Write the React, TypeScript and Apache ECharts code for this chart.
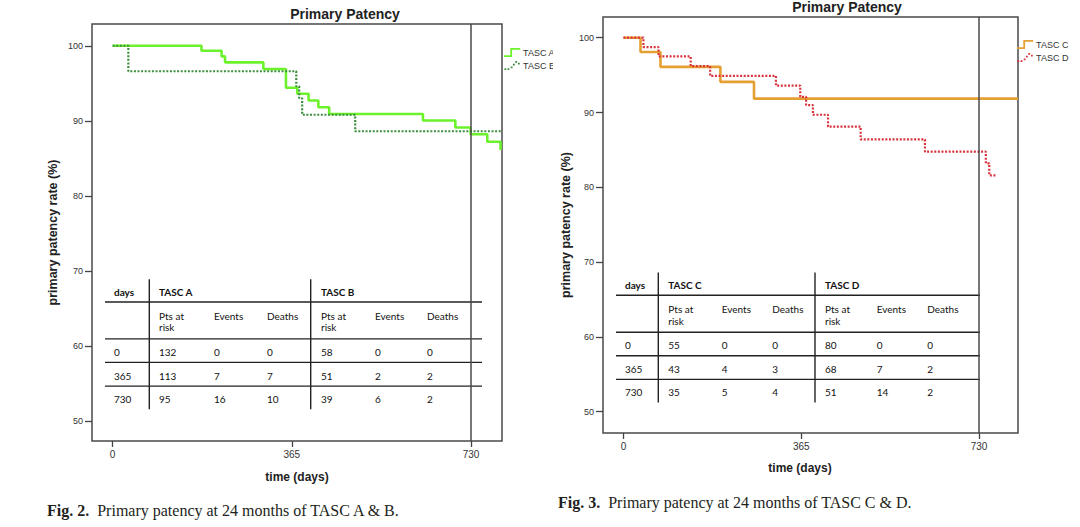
import React, { useEffect, useRef } from 'react';
import * as echarts from 'echarts';

// ---------- data ----------
const xTicks = [0, 365, 730];
const yTicks = [50, 60, 70, 80, 90, 100];

const tascADays = [0, 181, 222, 229, 307, 353, 376, 399, 419, 441, 632, 698, 729, 763, 790];
const tascAValues = [100, 99.33, 98.58, 97.78, 96.9, 94.4, 93.6, 92.7, 91.8, 90.9, 90.04, 89.1, 88.2, 87.2, 86.1];

const tascBDays = [0, 32, 374, 380, 386, 494, 793];
const tascBValues = [100, 96.6, 94.6, 93.0, 90.8, 88.6, 88.6];

const tascCDays = [0, 35, 76, 199, 268, 810];
const tascCValues = [100, 98.1, 96.1, 94.1, 91.85, 91.85];

const tascDDays = [0, 41, 72, 138, 178, 313, 363, 375, 389, 420, 487, 619, 744, 751, 767];
const tascDValues = [100, 98.75, 97.5, 96.2, 94.9, 93.6, 92.1, 91.0, 89.7, 88.1, 86.4, 84.76, 83.2, 81.6, 81.6];

const tableDays = ['0', '365', '730'];
const tascARisk = [132, 113, 95];
const tascAEvents = [0, 7, 16];
const tascADeaths = [0, 7, 10];
const tascBRisk = [58, 51, 39];
const tascBEvents = [0, 2, 6];
const tascBDeaths = [0, 2, 2];
const tascCRisk = [55, 43, 35];
const tascCEvents = [0, 4, 5];
const tascCDeaths = [0, 3, 4];
const tascDRisk = [80, 68, 51];
const tascDEvents = [0, 7, 14];
const tascDDeaths = [0, 2, 2];

const refDay = 730;

// ---------- styling ----------
const SANS = '"Liberation Sans", Arial, sans-serif';
const TABLE_FONT = 'Lato, "Open Sans", sans-serif';
const SERIF = '"Liberation Serif", "Times New Roman", serif';
const colA = '#6cf22b';
const colB = '#3d8f3d';
const colC = '#e5a033';
const colD = '#d8323c';

const zip = (xs: number[], ys: number[]) => xs.map((x, i) => [x, ys[i]]);

const stepSolidIcon = 'path://M0,8 L7,8 L7,0 L18,0 L18,2 L9,2 L9,10 L0,10 Z';
const stepDotIcon =
  'path://M0,8h2v2h-2z M3.5,8h2v2h-2z M7,6h2v2h-2z M9.5,3h2v2h-2z M12,0h2v2h-2z M15,2h2v2h-2z';

function tableElements(cfg: {
  cols: number[];
  headerY: number;
  left: number;
  right: number;
  vlines: number[];
  g1: string;
  g2: string;
  data: (string | number)[][];
}) {
  const els: any[] = [];
  const { cols, headerY: y0, left, right, vlines } = cfg;
  const stroke = '#222';
  const hl = [y0 + 10.3, y0 + 47.2, y0 + 70.7, y0 + 94.4];
  hl.forEach((y) =>
    els.push({ type: 'line', shape: { x1: left, y1: y, x2: right, y2: y }, style: { stroke, lineWidth: 1.4 }, silent: true })
  );
  vlines.forEach((x) =>
    els.push({ type: 'line', shape: { x1: x, y1: y0 - 12.4, x2: x, y2: y0 + 117.6 }, style: { stroke, lineWidth: 1.4 }, silent: true })
  );
  const txt = (x: number, y: number, t: string, bold = false) =>
    els.push({
      type: 'text',
      x,
      y,
      silent: true,
      style: {
        text: t,
        fontFamily: TABLE_FONT,
        fontSize: 10,
        fontWeight: bold ? 'bold' : 'normal',
        fill: '#111',
        align: 'left',
        verticalAlign: 'middle',
      },
    });
  txt(cols[0], y0, 'days', true);
  txt(cols[1], y0, cfg.g1, true);
  txt(cols[4], y0, cfg.g2, true);
  [1, 4].forEach((c) => {
    txt(cols[c], y0 + 24, 'Pts at');
    txt(cols[c], y0 + 35.5, 'risk');
  });
  [2, 5].forEach((c) => txt(cols[c], y0 + 24, 'Events'));
  [3, 6].forEach((c) => txt(cols[c], y0 + 24, 'Deaths'));
  const rowY = [y0 + 60, y0 + 83.8, y0 + 107.2];
  cfg.data.forEach((col, ci) => {
    col.forEach((v, ri) => txt(cols[ci], rowY[ri], String(v)));
  });
  return els;
}

export default function App() {
  const ref = useRef<HTMLDivElement>(null);

  useEffect(() => {
    if (!ref.current) return;
    const chart = echarts.init(ref.current, undefined, { renderer: 'svg' });

    const xAxisBase = (gridIndex: number, min: number, max: number) => ({
      gridIndex,
      type: 'value',
      min,
      max,
      axisLine: { show: false, onZero: false },
      splitLine: { show: false },
      axisTick: { show: true, customValues: xTicks, length: 6, lineStyle: { color: '#444', width: 1.3 } },
      axisLabel: { customValues: xTicks, fontSize: 10, color: '#333', margin: 8, fontFamily: SANS },
    });
    const yAxisBase = (gridIndex: number, min: number, max: number, gap: number) => ({
      gridIndex,
      type: 'value',
      min,
      max,
      name: 'primary patency rate (%)',
      nameLocation: 'middle',
      nameGap: gap,
      nameTextStyle: { fontSize: 12.5, fontWeight: 'bold', color: '#222', fontFamily: SANS },
      axisLine: { show: false, onZero: false },
      splitLine: { show: false },
      axisTick: { show: true, customValues: yTicks, length: 7, lineStyle: { color: '#444', width: 1.3 } },
      axisLabel: { customValues: yTicks, fontSize: 9, color: '#333', margin: 9, fontFamily: SANS },
    });

    const refLine = {
      silent: true,
      symbol: ['none', 'none'],
      label: { show: false },
      lineStyle: { color: '#4a4a4a', width: 1.5, type: 'solid' },
      data: [{ xAxis: refDay }],
    };

    const legendBase = {
      orient: 'vertical',
      itemWidth: 18,
      itemHeight: 9,
      itemGap: 4,
      padding: 0,
      selectedMode: false,
      textStyle: { fontSize: 9, color: '#333', fontFamily: SANS, padding: [0, 0, 0, -3] },
    };

    const option: any = {
      animation: false,
      backgroundColor: '#fff',
      grid: [
        { left: 92, top: 24, width: 410, height: 417, show: true, borderColor: '#4a4a4a', borderWidth: 1.5, backgroundColor: 'transparent' },
        { left: 603, top: 17, width: 415, height: 416, show: true, borderColor: '#4a4a4a', borderWidth: 1.5, backgroundColor: 'transparent' },
      ],
      xAxis: [xAxisBase(0, -42, 793), xAxisBase(1, -42, 810)],
      yAxis: [yAxisBase(0, 47.3, 102.9, 33), yAxisBase(1, 47.15, 102.77, 31)],
      legend: [
        {
          ...legendBase,
          data: [
            { name: 'TASC A', icon: stepSolidIcon },
            { name: 'TASC B', icon: stepDotIcon },
          ],
          left: 504,
          top: 48,
        },
        {
          ...legendBase,
          data: [
            { name: 'TASC C', icon: stepSolidIcon },
            { name: 'TASC D', icon: stepDotIcon },
          ],
          left: 1017,
          top: 40,
        },
      ],
      series: [
        {
          type: 'line',
          name: 'TASC A',
          xAxisIndex: 0,
          yAxisIndex: 0,
          step: 'end',
          symbol: 'none',
          data: zip(tascADays, tascAValues),
          lineStyle: { color: colA, width: 2.6 },
          itemStyle: { color: colA },
          markLine: refLine,
          z: 3,
        },
        {
          type: 'line',
          name: 'TASC B',
          xAxisIndex: 0,
          yAxisIndex: 0,
          step: 'end',
          symbol: 'none',
          data: zip(tascBDays, tascBValues),
          lineStyle: { color: colB, width: 2.2, type: [2, 1.6] },
          itemStyle: { color: colB },
          z: 4,
        },
        {
          type: 'line',
          name: 'TASC C',
          xAxisIndex: 1,
          yAxisIndex: 1,
          step: 'end',
          symbol: 'none',
          data: zip(tascCDays, tascCValues),
          lineStyle: { color: colC, width: 2.6 },
          itemStyle: { color: colC },
          markLine: refLine,
          z: 3,
        },
        {
          type: 'line',
          name: 'TASC D',
          xAxisIndex: 1,
          yAxisIndex: 1,
          step: 'end',
          symbol: 'none',
          data: zip(tascDDays, tascDValues),
          lineStyle: { color: colD, width: 2.2, type: [2, 1.6] },
          itemStyle: { color: colD },
          z: 4,
        },
      ],
      graphic: {
        elements: [
          // mask that clips the left legend like the reference
          { type: 'rect', shape: { x: 553, y: 40, width: 22, height: 36 }, style: { fill: '#fff' }, z: 100, silent: true },
          {
            type: 'text', x: 345, y: 14, silent: true,
            style: { text: 'Primary Patency', fontFamily: SANS, fontSize: 14, fontWeight: 'bold', fill: '#222', align: 'center', verticalAlign: 'middle' },
          },
          {
            type: 'text', x: 847, y: 7, silent: true,
            style: { text: 'Primary Patency', fontFamily: SANS, fontSize: 14, fontWeight: 'bold', fill: '#222', align: 'center', verticalAlign: 'middle' },
          },
          {
            type: 'text', x: 297, y: 477, silent: true,
            style: { text: 'time (days)', fontFamily: SANS, fontSize: 12, fontWeight: 'bold', fill: '#222', align: 'center', verticalAlign: 'middle' },
          },
          {
            type: 'text', x: 800, y: 468, silent: true,
            style: { text: 'time (days)', fontFamily: SANS, fontSize: 12, fontWeight: 'bold', fill: '#222', align: 'center', verticalAlign: 'middle' },
          },
          {
            type: 'text', x: 47, y: 510, silent: true,
            style: {
              text: '{b|Fig. 2.}  Primary patency at 24 months of TASC A & B.',
              fontFamily: SERIF, fontSize: 16, fill: '#231f20', align: 'left', verticalAlign: 'middle',
              rich: { b: { fontFamily: SERIF, fontSize: 16, fontWeight: 'bold', fill: '#231f20' } },
            },
          },
          {
            type: 'text', x: 558, y: 502, silent: true,
            style: {
              text: '{b|Fig. 3.}  Primary patency at 24 months of TASC C & D.',
              fontFamily: SERIF, fontSize: 16, fill: '#231f20', align: 'left', verticalAlign: 'middle',
              rich: { b: { fontFamily: SERIF, fontSize: 16, fontWeight: 'bold', fill: '#231f20' } },
            },
          },
          ...tableElements({
            cols: [114, 159, 214, 267, 321, 375, 427],
            headerY: 291.7,
            left: 105,
            right: 482,
            vlines: [149.3, 310.7],
            g1: 'TASC A',
            g2: 'TASC B',
            data: [tableDays, tascARisk, tascAEvents, tascADeaths, tascBRisk, tascBEvents, tascBDeaths],
          }),
          ...tableElements({
            cols: [625, 668.3, 721.7, 772.3, 825, 876.7, 927.3],
            headerY: 285,
            left: 616,
            right: 980,
            vlines: [658.3, 815],
            g1: 'TASC C',
            g2: 'TASC D',
            data: [tableDays, tascCRisk, tascCEvents, tascCDeaths, tascDRisk, tascDEvents, tascDDeaths],
          }),
        ],
      },
    };

    chart.setOption(option);
    return () => chart.dispose();
  }, []);

  return (
    <div
      ref={ref}
      style={{ position: 'fixed', left: 0, top: 0, width: 1080, height: 527, background: '#fff' }}
    />
  );
}
